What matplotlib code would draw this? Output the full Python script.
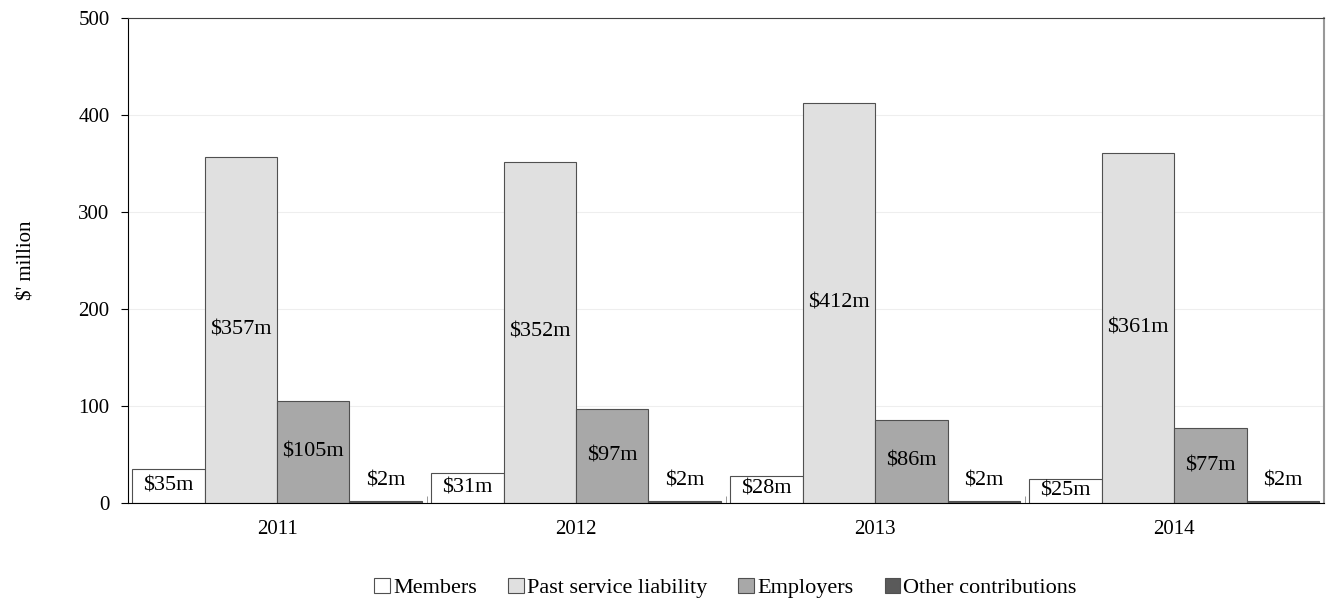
import numpy as np
import matplotlib.pyplot as plt

plt.rcParams['font.family'] = ['Liberation Serif', 'DejaVu Serif']

years = ['2011', '2012', '2013', '2014']
members = [35, 31, 28, 25]
past_service = [357, 352, 412, 361]
employers = [105, 97, 86, 77]
other = [2, 2, 2, 2]

series = [('Members', members, '#ffffff'),
          ('Past service liability', past_service, '#e0e0e0'),
          ('Employers', employers, '#a8a8a8'),
          ('Other contributions', other, '#5a5a5a')]

fig, ax = plt.subplots(figsize=(13.29, 6.01), dpi=100)
fig.subplots_adjust(left=0.096, right=0.996, top=0.97, bottom=0.163)

x = np.arange(len(years))
w = 0.242
for i, (name, vals, col) in enumerate(series):
    pos = x - 1.5 * w + i * w
    bars = ax.bar(pos, vals, width=w, color=col, edgecolor='#505050', linewidth=0.8, label=name, zorder=2)
    for b, v in zip(bars, vals):
        cx = b.get_x() + b.get_width() / 2
        if v < 10:
            ax.text(cx, v + 21, f'${v}m', ha='center', va='center', fontsize=16, zorder=3)
        else:
            ax.text(cx, v / 2, f'${v}m', ha='center', va='center', fontsize=16, zorder=3)

ax.set_xlim(-0.5, len(years) - 0.5)
ax.set_ylim(0, 500)
ax.set_yticks(range(0, 501, 100))
ax.set_xticks(x)
ax.set_xticklabels(years)
ax.set_xticks(np.arange(0.5, len(years) - 0.5, 1), minor=True)
ax.tick_params(axis='x', which='major', length=0, pad=12)
ax.tick_params(axis='x', which='minor', length=5, direction='in', color='#888888')
ax.tick_params(axis='y', length=5, pad=8)
ax.tick_params(labelsize=15)
ax.grid(axis='y', color='#eeeeee', linewidth=0.8, zorder=0)
ax.spines['top'].set_color('#404040')
ax.spines['right'].set_color('#999999')
ax.spines['right'].set_linewidth(1.5)
ax.set_ylabel("$' million", fontsize=15, labelpad=30)

ax.legend(loc='center', bbox_to_anchor=(0.5, -0.175), ncol=4, frameon=False,
          fontsize=16, handlelength=0.7, handleheight=0.7, handletextpad=0.15, columnspacing=1.4)

fig.savefig('out.png', dpi=100)
